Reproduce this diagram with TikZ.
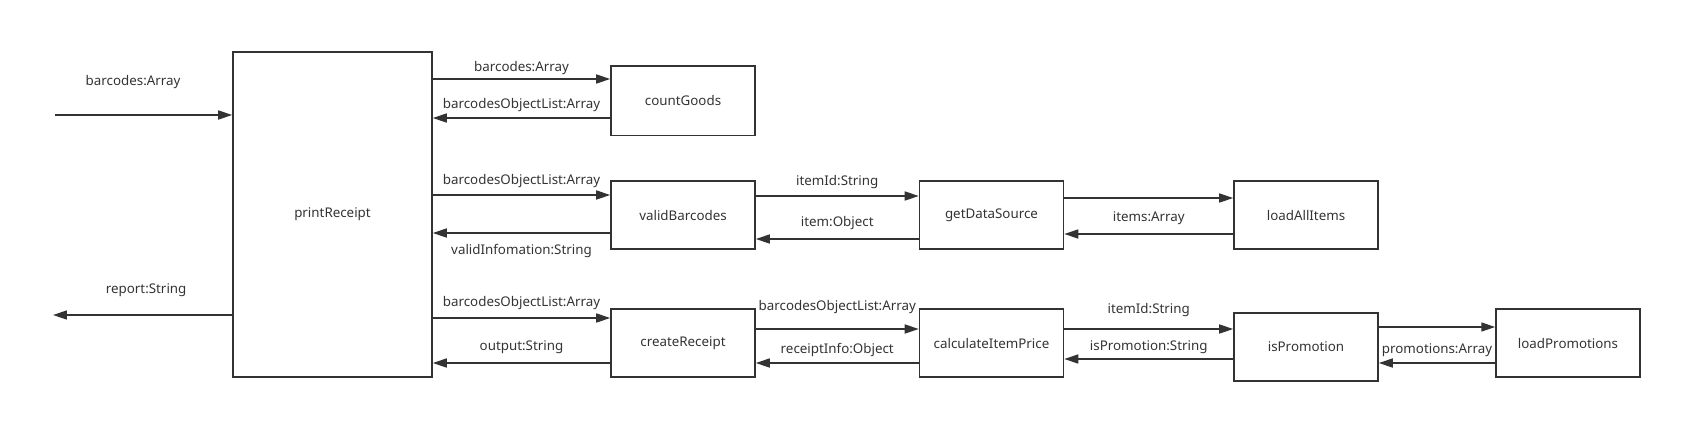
\documentclass[tikz,border=0pt]{standalone}
\usepackage{fontspec}
\setmainfont{Noto Sans}
\usetikzlibrary{arrows.meta}
\definecolor{ink}{HTML}{333333}
\tikzset{
  func/.style={draw=ink, line width=0.9pt, text=ink, minimum width=2.88cm, minimum height=1.36cm, inner sep=0pt},
  flow/.style={draw=ink, line width=0.9pt, -{Triangle[length=0.28cm,width=0.18cm]}},
  lbl/.style={text=ink, inner sep=0pt}
}

\begin{document}
\begin{tikzpicture}[x=0.02cm, y=-0.02cm, font=\fontsize{7.6}{9}\selectfont]
\useasboundingbox (0,0) rectangle (1702,443);

\node[func, minimum width=3.98cm, minimum height=6.5cm] (printReceipt) at (332.5,214.5) {printReceipt};
\node[func, minimum height=1.4cm] (countGoods) at (683,100.7) {countGoods};
\node[func] (validBarcodes) at (683,215) {validBarcodes};
\node[func] (createReceipt) at (683,343) {createReceipt};
\node[func] (getDataSource) at (991.5,215) {getDataSource};
\node[func] (calculateItemPrice) at (991.5,343) {calculateItemPrice};
\node[func] (loadAllItems) at (1306,215) {loadAllItems};
\node[func] (isPromotion) at (1306,347) {isPromotion};
\node[func] (loadPromotions) at (1568,343) {loadPromotions};

\coordinate (in) at (55,115);
\coordinate (out) at (53,315);

% input and output of printReceipt
\path (in) edge[flow] node[lbl, above=14.5pt, xshift=-6pt] {barcodes:Array} (printReceipt.west |- in);
\path (printReceipt.west |- out) edge[flow] node[lbl, above=10pt, xshift=2pt] {report:String} (out);

% printReceipt <-> countGoods, validBarcodes, createReceipt
\path (printReceipt.east |- 0,79) edge[flow] node[lbl, above=2.1pt] {barcodes:Array} (countGoods.west |- 0,79);
\path (countGoods.west |- 0,118) edge[flow] node[lbl, above=3.2pt] {barcodesObjectList:Array} (printReceipt.east |- 0,118);
\path (printReceipt.east |- 0,195) edge[flow] node[lbl, above=3.8pt] {barcodesObjectList:Array} (validBarcodes.west |- 0,195);
\path (validBarcodes.west |- 0,233) edge[flow] node[lbl, below=6pt] {validInfomation:String} (printReceipt.east |- 0,233);
\path (printReceipt.east |- 0,318) edge[flow] node[lbl, above=4.3pt] {barcodesObjectList:Array} (createReceipt.west |- 0,318);
\path (createReceipt.west |- 0,363) edge[flow] node[lbl, above=4.9pt] {output:String} (printReceipt.east |- 0,363);

% validBarcodes <-> getDataSource <-> loadAllItems
\path (validBarcodes.east |- 0,196) edge[flow] node[lbl, above=3.8pt] {itemId:String} (getDataSource.west |- 0,196);
\path (getDataSource.west |- 0,239) edge[flow] node[lbl, above=4.9pt] {item:Object} (validBarcodes.east |- 0,239);
\path (getDataSource.east |- 0,198) edge[flow] (loadAllItems.west |- 0,198);
\path (loadAllItems.west |- 0,234) edge[flow] node[lbl, above=4.9pt] {items:Array} (getDataSource.east |- 0,234);

% createReceipt <-> calculateItemPrice <-> isPromotion <-> loadPromotions
\path (createReceipt.east |- 0,329) edge[flow] node[lbl, above=8.3pt] {barcodesObjectList:Array} (calculateItemPrice.west |- 0,329);
\path (calculateItemPrice.west |- 0,363) edge[flow] node[lbl, above=3.2pt] {receiptInfo:Object} (createReceipt.east |- 0,363);
\path (calculateItemPrice.east |- 0,329) edge[flow] node[lbl, above=6.6pt] {itemId:String} (isPromotion.west |- 0,329);
\path (isPromotion.west |- 0,359) edge[flow] node[lbl, above=2.6pt] {isPromotion:String} (calculateItemPrice.east |- 0,359);
\path (isPromotion.east |- 0,327) edge[flow] (loadPromotions.west |- 0,327);
\path (loadPromotions.west |- 0,363) edge[flow] node[lbl, above=3.2pt] {promotions:Array} (isPromotion.east |- 0,363);
\end{tikzpicture}
\end{document}
